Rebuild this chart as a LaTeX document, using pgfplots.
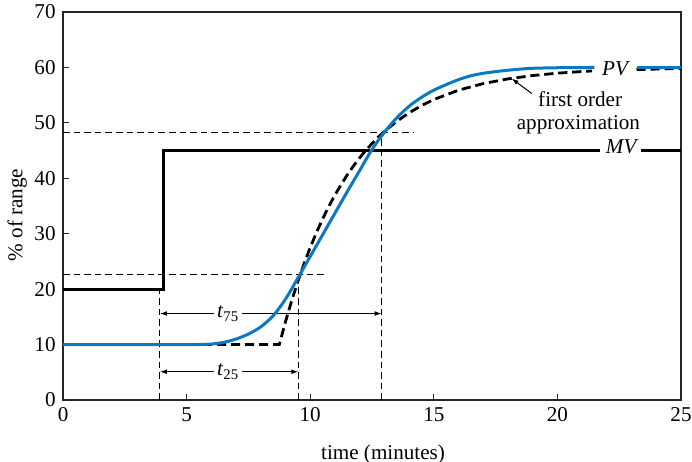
\documentclass[border=0pt]{standalone}
\usepackage{fontspec}
\setmainfont{Liberation Serif}
\usepackage{pgfplots}
\pgfplotsset{compat=1.18}
\usetikzlibrary{arrows.meta}
\definecolor{pvblue}{HTML}{0B79C1}

\begin{document}
\fontsize{10.6}{12.5}\selectfont
\begin{tikzpicture}
\begin{axis}[
    scale only axis,
    width=309bp, height=194bp,
    xmin=0, xmax=25, ymin=0, ymax=70,
    xtick={0,5,...,25}, ytick={0,10,...,70},
    tick pos=left, tick align=inside,
    major tick length=3bp,
    axis line style={line width=0.6pt, black!85},
    tick style={line width=0.5pt, black!85},
    /pgf/number format/assume math mode=true,
    xlabel={time (minutes)},
    ylabel={\% of range},
    xlabel style={yshift=-4.5bp, xshift=5.5bp},
    ylabel style={xshift=-4.5bp, yshift=-3.5bp},
    clip=false,
]
% guide lines (thin dashed)
\addplot[black, line width=0.5bp, dash pattern=on 3.3bp off 2bp] coordinates {(0,22.7) (10.64,22.7)};
\addplot[black, line width=0.5bp, dash pattern=on 3.3bp off 2bp] coordinates {(0,48.2) (14.16,48.2)};
\addplot[black, line width=0.5bp, dash pattern=on 3.3bp off 2bp] coordinates {(3.92,0) (3.92,19.8)};
\addplot[black, line width=0.5bp, dash pattern=on 3.3bp off 2bp] coordinates {(9.52,0) (9.52,22.7)};
\addplot[black, line width=0.5bp, dash pattern=on 3.3bp off 2bp] coordinates {(12.89,0) (12.89,48.2)};

% t75 and t25 arrows
\addplot[black, line width=0.5bp, {Latex[length=3.5pt,width=2.4pt]}-{Latex[length=3.5pt,width=2.4pt]}] coordinates {(3.92,15.6) (12.89,15.6)};
\addplot[black, line width=0.5bp, {Latex[length=3.5pt,width=2.4pt]}-{Latex[length=3.5pt,width=2.4pt]}] coordinates {(3.92,5.1) (9.52,5.1)};
\node[fill=white, inner sep=1.5pt] at (axis cs:6.68,15.6) {\textit{t}\textsubscript{75}};
\node[fill=white, inner sep=1.5pt] at (axis cs:6.68,5.1) {\textit{t}\textsubscript{25}};

% MV
\addplot[black, line width=1.5bp] coordinates {(0,20) (4.05,20) (4.05,45) (21.72,45)};
\addplot[black, line width=1.5bp] coordinates {(23.4,45) (25,45)};

% first order approximation
\addplot[black, line width=1.4bp, dash pattern=on 4.6bp off 2.4bp] coordinates {
(0,10) (8.75,10) (9.0,14.13) (9.25,17.92) (9.5,21.39) (9.75,24.58) (10.0,27.51)
(10.25,30.19) (10.5,32.65) (10.75,34.92) (11.0,36.98) (11.25,38.88) (11.5,40.63)
(11.75,42.23) (12.0,43.70) (12.25,45.04) (12.5,46.28) (12.75,47.41) (13.0,48.45)
(13.5,50.28) (14.0,51.82) (14.5,53.12) (15.0,54.21) (16.0,55.90) (17.0,57.09)
(18.0,57.94) (19.0,58.54) (20.0,58.97) (21.0,59.27) (21.4,59.37)};
\addplot[black, line width=1.4bp, dash pattern=on 4.6bp off 2.4bp] coordinates {(23.2,59.62) (25,59.82)};

% PV
\addplot[pvblue, line width=1.5bp, smooth] coordinates {
(0,10) (5,10) (5.5,10.02) (6,10.1) (6.5,10.4) (7,11.0) (7.5,11.9) (8,13.2) (8.5,15.2)
(9,18.2) (9.5,22.0) (10,25.9) (10.5,29.8) (11,33.7) (11.5,37.6) (12,41.4) (12.5,45.2)
(13,48.3) (13.5,50.9) (14,53.0) (14.5,54.6) (15,55.9) (15.5,56.9) (16,57.8) (16.5,58.5)
(17,58.95) (17.5,59.25) (18,59.5) (18.5,59.7) (19,59.85) (20,59.95) (21.5,60)};
\addplot[pvblue, line width=1.5bp] coordinates {(23.2,60) (25,60)};

% labels
\node[anchor=base, font=\itshape] at (axis cs:22.33,58.5) {PV};
\node[anchor=base, font=\itshape] at (axis cs:22.58,44.4) {MV};
\node[anchor=base] at (axis cs:20.92,52.9) {first order};
\node[anchor=base] at (axis cs:20.85,48.8) {approximation};
\addplot[black, line width=0.5bp, -{Latex[length=3.5pt,width=2.4pt]}] coordinates {(18.96,55.3) (18.15,58.0)};

% page extent
\coordinate (bbsw) at (rel axis cs:-0.102,-0.1598);
\coordinate (bbne) at (rel axis cs:1.0178,1.031);
\end{axis}
\pgfresetboundingbox
\useasboundingbox (bbsw) rectangle (bbne);
\end{tikzpicture}
\end{document}
